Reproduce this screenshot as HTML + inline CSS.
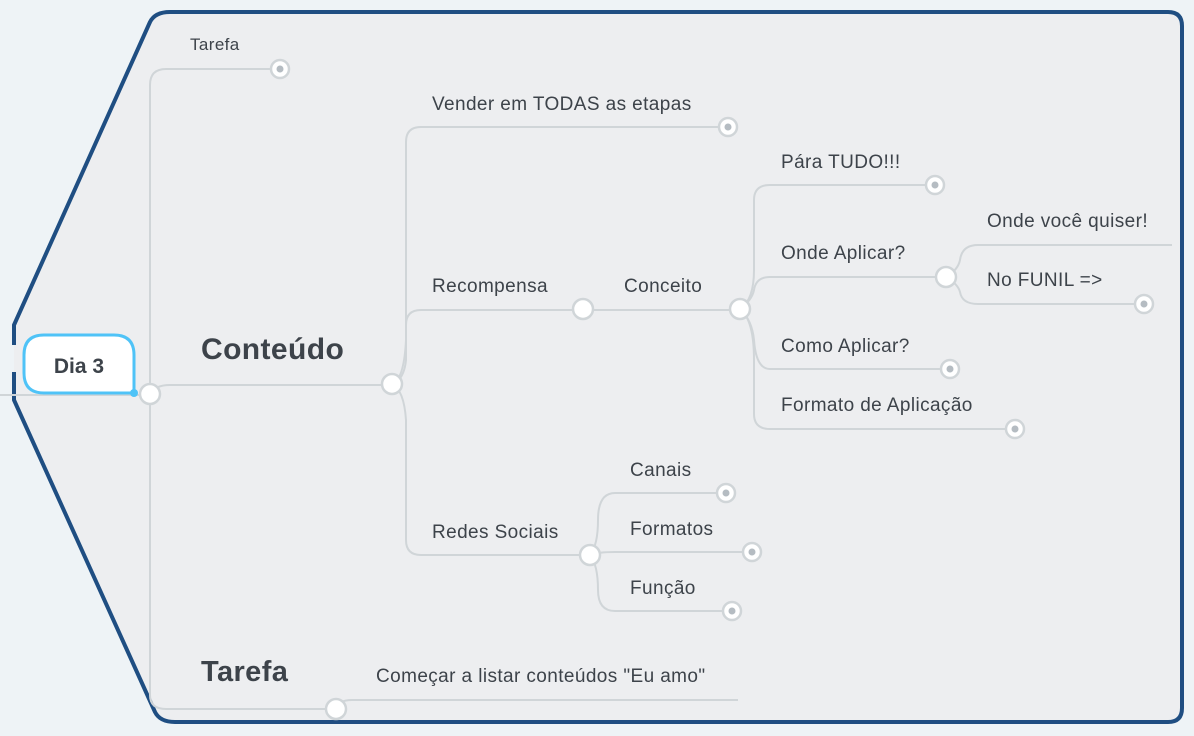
<!DOCTYPE html>
<html><head><style>
body{margin:0;background:#eef3f6;}
svg{display:block;font-family:"Liberation Sans",sans-serif;}
text{fill:#3d434a;font-size:19px;letter-spacing:0.4px;}
</style></head><body>
<svg width="1194" height="736" viewBox="0 0 1194 736">
<rect width="1194" height="736" fill="#eef3f6"/>
<path d="M14,345 L14,325 L150,22 Q155,12 170,12 L1168,12 Q1182,12 1182,26 L1182,708 Q1182,722 1168,722 L175,722 Q160,722 155,712 L14,400 L14,372" fill="#edeef0" stroke="#1f4e82" stroke-width="4" stroke-linejoin="round"/>
<g fill="none" stroke="#d0d5d8" stroke-width="2">
<path d="M0,395 L150,395"/>
<path d="M150,394 L150,85 Q150,69 166,69 L280,69"/>
<path d="M150,394 L150,695 Q150,709 166,709 L336,709"/>
<path d="M336,709 Q338,700 352,700 L738,700"/>
<path d="M150,394 Q155,385 170,385 L392,385"/>
<path d="M392,384 Q404,380 406,360 L406,142 Q406,127 421,127 L728,127"/>
<path d="M392,384 Q404,380 406,340 L406,325 Q406,310 421,310 L740,310"/>
<path d="M392,384 Q404,390 406,420 L406,540 Q406,555 421,555 L590,555"/>
<path d="M740,309 Q754,300 754,270 L754,200 Q754,185 770,185 L935,185"/>
<path d="M740,309 Q752,300 754,290 Q756,277 770,277 L946,277"/>
<path d="M740,309 Q752,320 754,340 Q756,369 770,369 L950,369"/>
<path d="M740,309 Q754,320 754,360 L754,414 Q754,429 770,429 L1015,429"/>
<path d="M946,277 Q958,270 960,260 Q962,245 978,245 L1172,245"/>
<path d="M946,277 Q958,284 960,292 Q962,304 978,304 L1144,304"/>
<path d="M590,555 Q598,545 598,520 Q598,493 615,493 L726,493"/>
<path d="M590,555 Q598,552 615,552 L752,552"/>
<path d="M590,555 Q598,565 598,590 Q598,611 615,611 L732,611"/>
</g>
<g fill="#fff" stroke="#d0d5d8" stroke-width="2.5">
<circle cx="150" cy="394" r="10"/><circle cx="392" cy="384" r="10"/><circle cx="583" cy="309" r="10"/>
<circle cx="740" cy="309" r="10"/><circle cx="946" cy="277" r="10"/><circle cx="590" cy="555" r="10"/>
<circle cx="336" cy="709" r="10"/>
</g>
<g fill="#fff" stroke="#d0d5d8" stroke-width="2.5">
<circle cx="280" cy="69" r="9"/><circle cx="728" cy="127" r="9"/><circle cx="935" cy="185" r="9"/>
<circle cx="950" cy="369" r="9"/><circle cx="1015" cy="429" r="9"/><circle cx="1144" cy="304" r="9"/>
<circle cx="726" cy="493" r="9"/><circle cx="752" cy="552" r="9"/><circle cx="732" cy="611" r="9"/>
</g>
<g fill="#b5bcc2">
<circle cx="280" cy="69" r="3.5"/><circle cx="728" cy="127" r="3.5"/><circle cx="935" cy="185" r="3.5"/>
<circle cx="950" cy="369" r="3.5"/><circle cx="1015" cy="429" r="3.5"/><circle cx="1144" cy="304" r="3.5"/>
<circle cx="726" cy="493" r="3.5"/><circle cx="752" cy="552" r="3.5"/><circle cx="732" cy="611" r="3.5"/>
</g>
<path d="M44,335 L114,335 Q134,335 134,355 L134,393 L44,393 Q24,393 24,373 L24,355 Q24,335 44,335 Z" fill="#fff" stroke="#4fc3f7" stroke-width="3"/>
<circle cx="134" cy="393" r="4" fill="#4fc3f7"/>
<text x="79" y="373" text-anchor="middle" style="font-size:21px;font-weight:bold;letter-spacing:0">Dia 3</text>
<text x="190" y="50" style="font-size:17px">Tarefa</text>
<text x="201" y="359" style="font-size:30px;font-weight:bold">Conteúdo</text>
<text x="201" y="681" style="font-size:29px;font-weight:bold">Tarefa</text>
<text x="432" y="110">Vender em TODAS as etapas</text>
<text x="432" y="292">Recompensa</text>
<text x="624" y="292">Conceito</text>
<text x="432" y="538">Redes Sociais</text>
<text x="781" y="168">Pára TUDO!!!</text>
<text x="781" y="259">Onde Aplicar?</text>
<text x="781" y="352">Como Aplicar?</text>
<text x="781" y="411">Formato de Aplicação</text>
<text x="987" y="227">Onde você quiser!</text>
<text x="987" y="286">No FUNIL =&gt;</text>
<text x="630" y="476">Canais</text>
<text x="630" y="535">Formatos</text>
<text x="630" y="594">Função</text>
<text x="376" y="682">Começar a listar conteúdos "Eu amo"</text>
</svg>
</body></html>
